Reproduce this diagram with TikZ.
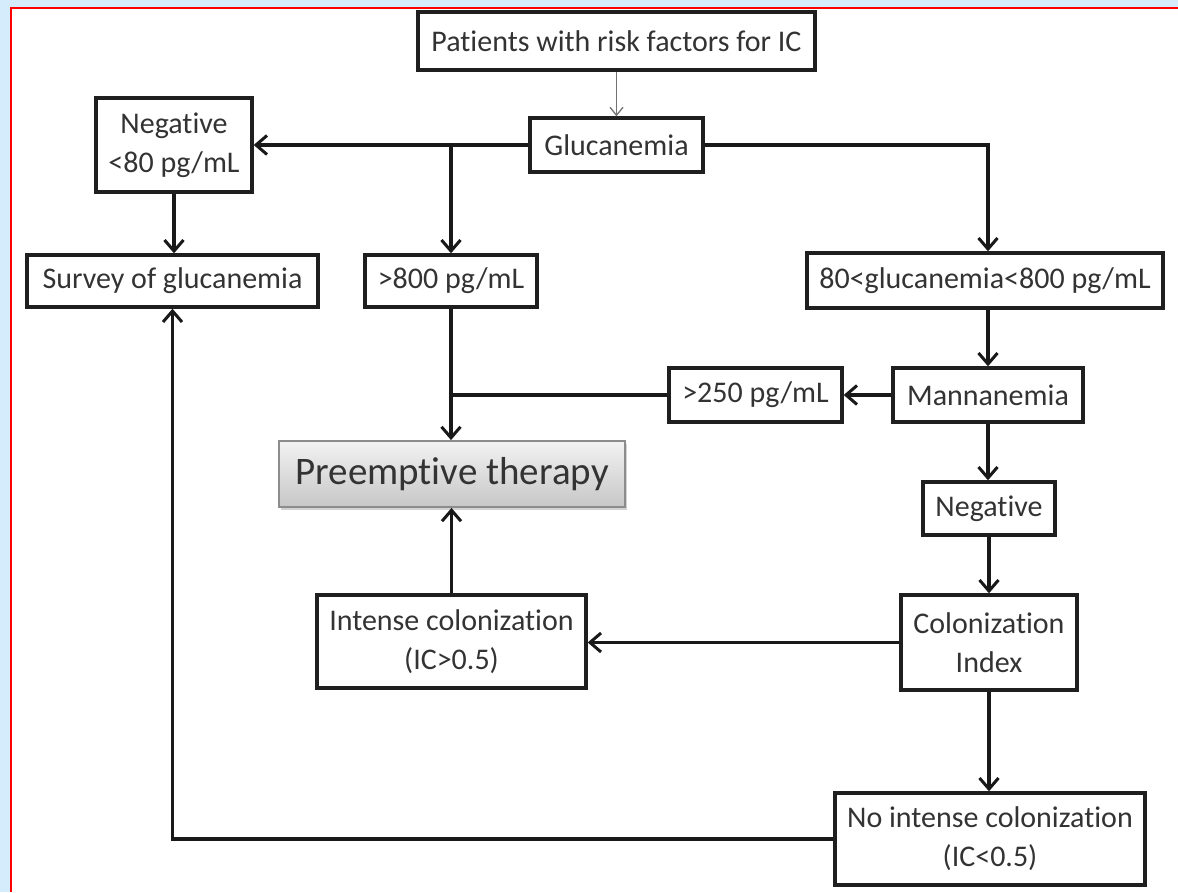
\documentclass[tikz,border=0pt]{standalone}
\usepackage{fontspec}
\setmainfont{Carlito}[Ligatures={NoCommon}]
\usetikzlibrary{arrows.meta,shadows,calc}
\definecolor{bgblue}{HTML}{D4ECFB}
\definecolor{txt}{HTML}{333333}
\tikzset{
  box/.style={draw=black!88, line width=3.4pt, fill=white, inner sep=0pt, align=center,
    text=txt, font=\fontsize{30}{39}\selectfont},
  arr/.style={line width=3.2pt, draw=black!90, -{Straight Barb[length=11pt,width=19pt,line width=3pt]}},
  lin/.style={line width=3.2pt, draw=black!90},
  thinarr/.style={line width=1.5pt, draw=black!55, -{Straight Barb[length=8pt,width=13pt,line width=1.3pt]}}
}
\begin{document}
\begin{tikzpicture}[x=1pt,y=-1pt]
\useasboundingbox (0,0) rectangle (1178,892);
\fill[bgblue] (0,0) rectangle (1178,892);
\fill[white] (11,8) rectangle (1178,892);
\draw[red, line width=2pt] (11,892) -- (11,8) -- (1178,8);

\node[box, minimum width=397pt, minimum height=58pt] (pat) at (616.5,41) {Patients with risk factors for IC};
\node[box, minimum width=173pt, minimum height=54pt] (gluc) at (616.5,145) {Glucanemia};
\node[box, minimum width=156pt, minimum height=94pt] (neg80) at (174,145) {Negative\\{<}80 pg/mL};
\node[box, minimum width=291pt, minimum height=52pt] (survey) at (172.5,281) {Survey of glucanemia};
\node[box, minimum width=172pt, minimum height=52pt] (g800) at (451,281) {{>}800 pg/mL};
\node[box, minimum width=356pt, minimum height=55pt] (mid) at (985,280.5) {80{<}glucanemia{<}800 pg/mL};
\node[box, minimum width=173pt, minimum height=54pt] (m250) at (755.5,395) {{>}250 pg/mL};
\node[box, minimum width=190pt, minimum height=54pt] (mann) at (988,395) {Mannanemia};
\node[box, minimum width=132pt, minimum height=53pt] (neg) at (989,508.5) {Negative};
\node[draw=black!45, line width=1.8pt, inner sep=0pt, top color=black!5, bottom color=black!22,
  drop shadow={shadow xshift=2pt, shadow yshift=-3pt, opacity=0.35},
  minimum width=346pt, minimum height=66pt, text=txt, font=\fontsize{39}{44}\selectfont] (pre) at (452,474) {Preemptive therapy};
\node[box, minimum width=269pt, minimum height=93pt] (intense) at (451.5,641.5) {Intense colonization\\(IC{>}0.5)};
\node[box, minimum width=176pt, minimum height=95pt] (colidx) at (989,642.5) {Colonization\\Index};
\node[box, minimum width=310pt, minimum height=92pt] (noint) at (990,839) {No intense colonization\\(IC{<}0.5)};

\draw[thinarr] (pat.south -| gluc.north) -- (gluc.north);
\draw[arr] (gluc.west) -- (neg80.east);
\draw[arr] (g800.north |- gluc.west) -- (g800.north);
\draw[arr] (gluc.east) -- (mann.north |- gluc.east) -- (mann.north |- mid.north);
\draw[arr] (neg80.south) -- (neg80.south |- survey.north);
\draw[arr] (mann.north |- mid.south) -- (mann.north);
\draw[arr] (mann.west) -- (m250.east);
\draw[lin] (m250.west) -- (g800.south |- m250.west);
\draw[arr] (g800.south) -- (g800.south |- pre.north);
\draw[arr] (mann.south) -- (mann.south |- neg.north);
\draw[arr] (neg.south) -- (neg.south |- colidx.north);
\draw[arr] (colidx.west) -- (colidx.west -| intense.east);
\draw[arr] (intense.north) -- (intense.north |- pre.south);
\draw[arr] (colidx.south) -- (colidx.south |- noint.north);
\draw[arr] (noint.west) -- (survey.south |- noint.west) -- (survey.south);
\end{tikzpicture}
\end{document}
